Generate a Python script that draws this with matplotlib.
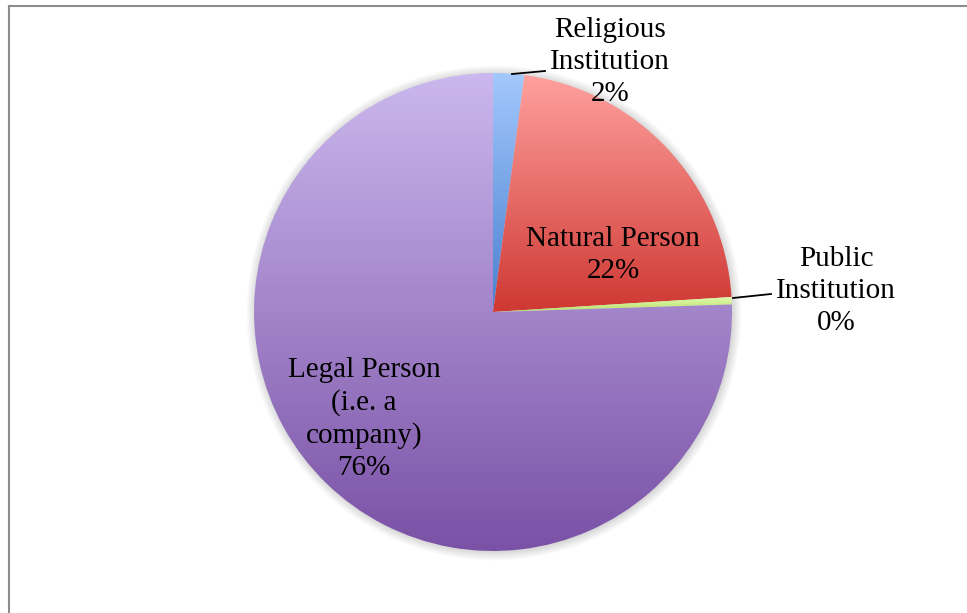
import numpy as np
import matplotlib
matplotlib.use("Agg")
import matplotlib.pyplot as plt
from matplotlib.colors import LinearSegmentedColormap
from matplotlib.patches import Circle

categories = ["Religious\nInstitution", "Natural Person", "Public\nInstitution", "Legal Person\n(i.e. a\ncompany)"]
values = [2.1, 21.9, 0.5, 75.5]
top_colors = ["#A3C8FC", "#FFA19E", "#E2FBB0", "#CBB8EE"]
bottom_colors = ["#4A7FD0", "#CF3833", "#B8E06A", "#7A51A6"]

W, H, DPI = 967, 613, 100
cx, cy, R = 493, 312, 239  # pixel layout of the pie

fig = plt.figure(figsize=(W / DPI, H / DPI), dpi=DPI)
ax = fig.add_axes([0, 0, 1, 1])
ax.set_xlim(-cx / R, (W - cx) / R)
ax.set_ylim(-(H - cy) / R, cy / R)
ax.axis("off")

# soft shadow
for i, a in enumerate(np.linspace(0.0, 1.0, 8)):
    ax.add_patch(Circle((0.004, -0.004), 1.0 + 0.035 * (1 - a), color="#000000",
                        alpha=0.018, lw=0, zorder=0))

wedges, _ = ax.pie(values, startangle=90, counterclock=False, radius=1,
                   wedgeprops=dict(linewidth=0, fill=False))

for w, c1, c2 in zip(wedges, top_colors, bottom_colors):
    path = w.get_path().transformed(w.get_patch_transform())
    verts = path.vertices
    y0, y1 = verts[:, 1].min(), verts[:, 1].max()
    x0, x1 = verts[:, 0].min(), verts[:, 0].max()
    cmap = LinearSegmentedColormap.from_list("g", [c1, c2])
    grad = np.linspace(0, 1, 256).reshape(-1, 1)
    im = ax.imshow(grad, cmap=cmap, extent=[x0, x1, y0, y1], origin="upper",
                   aspect="auto", zorder=2, interpolation="bilinear")
    im.set_clip_path(w)
ax.set_xlim(-cx / R, (W - cx) / R)
ax.set_ylim(-(H - cy) / R, cy / R)

def px(x, y):
    return ((x - cx) / R, (cy - y) / R)

font = dict(family=["Liberation Serif", "DejaVu Serif"], fontsize=21, color="black",
            ha="center", va="center", linespacing=1.28, zorder=5)

label_pos = [(610, 62), (613, 255), (836, 291), (364, 419)]
for lab, v, (lx, ly) in zip(categories, values, label_pos):
    x, y = px(lx, ly)
    ax.text(x, y, f"{lab}\n{round(v)}%", **font)

# leader lines
for (a, b), (c, d) in [((512, 74), (545, 71)), ((733, 298), (771, 294))]:
    x1, y1 = px(a, b)
    x2, y2 = px(c, d)
    ax.plot([x1, x2], [y1, y2], color="black", lw=1.3, zorder=6)

# frame (top and left visible)
fig.add_artist(plt.Line2D([9 / W, 1], [1 - 6 / H, 1 - 6 / H], color="#8C8C8C", lw=1.5))
fig.add_artist(plt.Line2D([9 / W, 9 / W], [0, 1 - 6 / H], color="#8C8C8C", lw=1.5))

fig.savefig("out.png", dpi=DPI)
